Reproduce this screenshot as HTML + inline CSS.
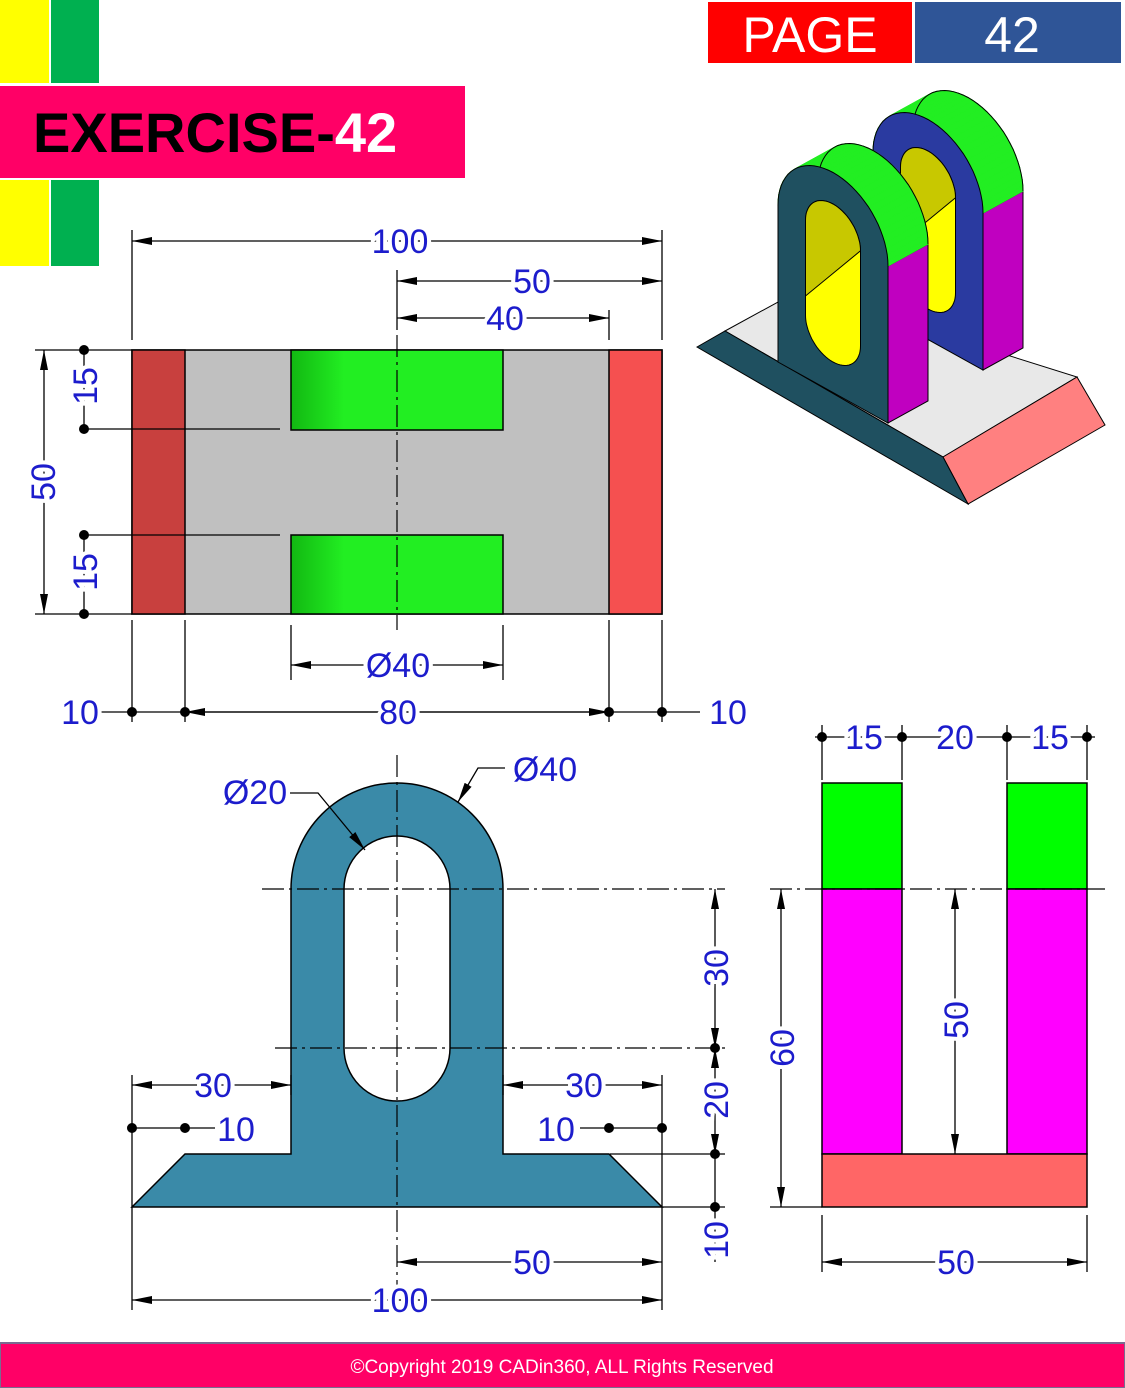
<!DOCTYPE html>
<html><head><meta charset="utf-8"><style>
html,body{margin:0;padding:0;background:#fff;}
svg{display:block;}
.d{font-family:"Liberation Sans",sans-serif;font-size:34px;fill:#1c1ccc;stroke:#fff;stroke-width:8px;paint-order:stroke;text-anchor:middle;dominant-baseline:central;}
.l{stroke:#000;stroke-width:1.3;fill:none;}
.c{stroke:#000;stroke-width:1.2;stroke-dasharray:22 5 3 5;fill:none;}
.o{stroke:#000;stroke-width:1.5;}
</style></head><body>
<svg id="root" width="1125" height="1388" viewBox="0 0 1125 1388" xmlns="http://www.w3.org/2000/svg">
<defs>
<marker id="a" viewBox="0 0 20 10" refX="20" refY="5" markerWidth="20" markerHeight="10" markerUnits="userSpaceOnUse" orient="auto-start-reverse"><path d="M0,1 L20,5 L0,9 Z" fill="#000"/></marker>
<linearGradient id="g" x1="0" x2="1"><stop offset="0" stop-color="#12b812"/><stop offset="0.25" stop-color="#22ee22"/><stop offset="1" stop-color="#22ee22"/></linearGradient>
</defs>

<g>
<rect x="0" y="0" width="49" height="83" fill="#ffff00"/><rect x="51" y="0" width="48" height="83" fill="#00b050"/>
<rect x="0" y="180" width="49" height="86" fill="#ffff00"/><rect x="51" y="180" width="48" height="86" fill="#00b050"/>
<rect x="0" y="86" width="465" height="92" fill="#ff0066"/>
<text x="33" y="152" font-family="Liberation Sans,sans-serif" font-weight="bold" font-size="56" fill="#000">EXERCISE-<tspan fill="#fff">42</tspan></text>
</g>
<g>
<rect x="708" y="2" width="204" height="61" fill="#ff0000"/>
<rect x="915" y="2" width="206" height="61" fill="#2f5597"/>
<text x="810" y="52" text-anchor="middle" font-family="Liberation Sans,sans-serif" font-size="50" fill="#fff">PAGE</text>
<text x="1012" y="52" text-anchor="middle" font-family="Liberation Sans,sans-serif" font-size="50" fill="#fff">42</text>
</g>

<g id="iso" stroke="#000" stroke-width="1">
<polygon points="725,331 800,290 1077,377 943,457" fill="#e8e8e8"/>
<polygon points="943,457 1077,377 1105,425 968,504" fill="#ff8080"/>
</g>

<g>
<rect x="132" y="350" width="530" height="264" fill="#c0c0c0" class="o"/>
<rect x="132" y="350" width="53" height="264" fill="#c8403e" class="o"/>
<rect x="609" y="350" width="53" height="264" fill="#f55050" class="o"/>
<rect x="291" y="350" width="212" height="80" fill="url(#g)" class="o"/>
<rect x="291" y="535" width="212" height="79" fill="url(#g)" class="o"/>
<line x1="397" y1="335" x2="397" y2="630" class="c"/>
</g>
<g>
<line x1="132" y1="230" x2="132" y2="340" class="l"/><line x1="662" y1="230" x2="662" y2="340" class="l"/>
<line x1="397" y1="270" x2="397" y2="330" class="l"/><line x1="609" y1="310" x2="609" y2="340" class="l"/>
<line x1="132" y1="241" x2="662" y2="241" class="l" marker-start="url(#a)" marker-end="url(#a)"/><text x="400" y="242" class="d">100</text>
<line x1="397" y1="281" x2="662" y2="281" class="l" marker-start="url(#a)" marker-end="url(#a)"/><text x="532" y="282" class="d">50</text>
<line x1="397" y1="318" x2="609" y2="318" class="l" marker-start="url(#a)" marker-end="url(#a)"/><text x="505" y="319" class="d">40</text>
<line x1="35" y1="350" x2="132" y2="350" class="l"/><line x1="35" y1="614" x2="132" y2="614" class="l"/>
<line x1="84" y1="429" x2="280" y2="429" class="l"/><line x1="84" y1="535" x2="280" y2="535" class="l"/>
<line x1="44" y1="350" x2="44" y2="614" class="l" marker-start="url(#a)" marker-end="url(#a)"/><text transform="translate(44,482) rotate(-90)" class="d">50</text>
<line x1="84" y1="350" x2="84" y2="429" class="l"/><line x1="84" y1="535" x2="84" y2="614" class="l"/>
<text transform="translate(86,386) rotate(-90)" class="d">15</text><text transform="translate(86,572) rotate(-90)" class="d">15</text>
<g fill="#000"><circle cx="84" cy="350" r="5"/><circle cx="84" cy="429" r="5"/><circle cx="84" cy="535" r="5"/><circle cx="84" cy="614" r="5"/></g>
<line x1="291" y1="625" x2="291" y2="680" class="l"/><line x1="503" y1="625" x2="503" y2="680" class="l"/>
<line x1="291" y1="665" x2="503" y2="665" class="l" marker-start="url(#a)" marker-end="url(#a)"/><text x="398" y="666" class="d">Ø40</text>
<line x1="132" y1="620" x2="132" y2="722" class="l"/><line x1="185" y1="620" x2="185" y2="722" class="l"/><line x1="609" y1="620" x2="609" y2="722" class="l"/><line x1="662" y1="620" x2="662" y2="722" class="l"/>
<line x1="100" y1="712" x2="700" y2="712" class="l"/>
<line x1="185" y1="712" x2="609" y2="712" class="l" marker-start="url(#a)" marker-end="url(#a)"/>
<g fill="#000"><circle cx="132" cy="712" r="5"/><circle cx="185" cy="712" r="5"/><circle cx="609" cy="712" r="5"/><circle cx="662" cy="712" r="5"/></g>
<text x="80" y="713" class="d">10</text><text x="398" y="713" class="d">80</text><text x="728" y="713" class="d">10</text>
</g>

<g>
<path d="M132,1207 L185,1154 L291,1154 L291,889 A106,106 0 0 1 503,889 L503,1154 L609,1154 L662,1207 Z M344,889 L344,1048 A53,53 0 0 0 450,1048 L450,889 A53,53 0 0 0 344,889 Z" fill="#3a8aa8" fill-rule="evenodd" class="o"/>
<line x1="397" y1="755" x2="397" y2="1315" class="c"/>
<line x1="262" y1="889" x2="725" y2="889" class="c"/>
<line x1="275" y1="1048" x2="725" y2="1048" class="c"/>
</g>
<g>
<polyline points="290,793 318,793 365,850" class="l" marker-end="url(#a)"/><text x="255" y="793" class="d">Ø20</text>
<polyline points="505,768 478,768 458,802" class="l" marker-end="url(#a)"/><text x="545" y="770" class="d">Ø40</text>
<line x1="715" y1="889" x2="715" y2="1048" class="l" marker-start="url(#a)" marker-end="url(#a)"/><text transform="translate(717,968) rotate(-90)" class="d">30</text>
<line x1="715" y1="1048" x2="715" y2="1154" class="l" marker-start="url(#a)" marker-end="url(#a)"/><text transform="translate(717,1100) rotate(-90)" class="d">20</text>
<line x1="715" y1="1154" x2="715" y2="1262" class="l"/><text transform="translate(717,1240) rotate(-90)" class="d">10</text>
<line x1="610" y1="1154" x2="725" y2="1154" class="l"/><line x1="662" y1="1207" x2="725" y2="1207" class="l"/>
<g fill="#000"><circle cx="715" cy="1048" r="5"/><circle cx="715" cy="1154" r="5"/><circle cx="715" cy="1207" r="5"/></g>
<line x1="132" y1="1075" x2="132" y2="1310" class="l"/><line x1="662" y1="1075" x2="662" y2="1310" class="l"/>
<line x1="291" y1="1075" x2="291" y2="1095" class="l"/><line x1="503" y1="1075" x2="503" y2="1095" class="l"/>
<line x1="132" y1="1085" x2="291" y2="1085" class="l" marker-start="url(#a)" marker-end="url(#a)"/><text x="213" y="1086" class="d">30</text>
<line x1="503" y1="1085" x2="662" y2="1085" class="l" marker-start="url(#a)" marker-end="url(#a)"/><text x="584" y="1086" class="d">30</text>
<line x1="132" y1="1128" x2="215" y2="1128" class="l"/><line x1="580" y1="1128" x2="662" y2="1128" class="l"/>
<g fill="#000"><circle cx="132" cy="1128" r="5"/><circle cx="185" cy="1128" r="5"/><circle cx="609" cy="1128" r="5"/><circle cx="662" cy="1128" r="5"/></g>
<text x="236" y="1130" class="d">10</text><text x="556" y="1130" class="d">10</text>
<line x1="397" y1="1262" x2="662" y2="1262" class="l" marker-start="url(#a)" marker-end="url(#a)"/><text x="532" y="1263" class="d">50</text>
<line x1="132" y1="1300" x2="662" y2="1300" class="l" marker-start="url(#a)" marker-end="url(#a)"/><text x="400" y="1301" class="d">100</text>
</g>

<g>
<rect x="822" y="783" width="80" height="106" fill="#00ff00" class="o"/>
<rect x="1007" y="783" width="80" height="106" fill="#00ff00" class="o"/>
<rect x="822" y="889" width="80" height="265" fill="#ff00ff" class="o"/>
<rect x="1007" y="889" width="80" height="265" fill="#ff00ff" class="o"/>
<rect x="822" y="1154" width="265" height="53" fill="#ff6666" class="o"/>
<line x1="770" y1="889" x2="1105" y2="889" class="c"/>
</g>
<g>
<line x1="822" y1="725" x2="822" y2="780" class="l"/><line x1="902" y1="725" x2="902" y2="780" class="l"/><line x1="1007" y1="725" x2="1007" y2="780" class="l"/><line x1="1087" y1="725" x2="1087" y2="780" class="l"/>
<line x1="815" y1="737" x2="1095" y2="737" class="l"/>
<g fill="#000"><circle cx="822" cy="737" r="5"/><circle cx="902" cy="737" r="5"/><circle cx="1007" cy="737" r="5"/><circle cx="1087" cy="737" r="5"/></g>
<text x="864" y="738" class="d">15</text><text x="955" y="738" class="d">20</text><text x="1050" y="738" class="d">15</text>
<line x1="770" y1="1207" x2="822" y2="1207" class="l"/>
<line x1="781" y1="889" x2="781" y2="1207" class="l" marker-start="url(#a)" marker-end="url(#a)"/><text transform="translate(783,1048) rotate(-90)" class="d">60</text>
<line x1="955" y1="889" x2="955" y2="1154" class="l" marker-start="url(#a)" marker-end="url(#a)"/><text transform="translate(957,1020) rotate(-90)" class="d">50</text>
<line x1="822" y1="1215" x2="822" y2="1272" class="l"/><line x1="1087" y1="1215" x2="1087" y2="1272" class="l"/>
<line x1="822" y1="1262" x2="1087" y2="1262" class="l" marker-start="url(#a)" marker-end="url(#a)"/><text x="956" y="1263" class="d">50</text>
</g>

<g>
<rect x="0" y="1343" width="1125" height="45" fill="#ff0066" stroke="#7a6a90" stroke-width="2"/>
<text x="562" y="1373" text-anchor="middle" font-family="Liberation Sans,sans-serif" font-size="19" fill="#fff">©Copyright 2019 CADin360, ALL Rights Reserved</text>
</g>
</svg>
<script>
const NS='http://www.w3.org/2000/svg';
const iso=document.getElementById('iso');
const T=[40,-22];
function P(ox,oy,th){return [833+ox+55*Math.cos(th), 235.5+oy+30.5*Math.cos(th)-63*Math.sin(th)];}
function H(ox,oy,th,low){return [833+ox+27.5*Math.cos(th), 235.5+oy+(low?95:0)+15.25*Math.cos(th)-31.5*Math.sin(th)];}
function add(d,fill,name,stroke){
  const p=document.createElementNS(NS,'path');
  p.setAttribute('d',d);p.setAttribute('fill',fill);
  p.setAttribute('stroke',stroke||'#000');
  
  
  iso.appendChild(p);return p;
}
function pts(a){return a.map((q,i)=>(i?'L':'M')+q[0].toFixed(1)+','+q[1].toFixed(1)).join(' ');}
function upright(ox,oy,faceColor,isFront){
  const N=36;
  // magenta side
  add(pts([[888+ox,266+oy],[888+ox,423+oy],[888+ox+T[0],423+oy+T[1]],[888+ox+T[0],266+oy+T[1]]])+'Z','#c000c0','upright-side-face');
  // green sweep
  for(let i=0;i<N;i++){
    const a=Math.PI*i/N,b=Math.PI*(i+1)/N;
    const p1=P(ox,oy,a),p2=P(ox,oy,b);
    add(pts([p1,p2,[p2[0]+T[0],p2[1]+T[1]],[p1[0]+T[0],p1[1]+T[1]]])+'Z','#22ee22','upright-curved-top','#22ee22');
  }
  const back=[];for(let i=0;i<=N;i++){const q=P(ox,oy,Math.PI*i/N);back.push([q[0]+T[0],q[1]+T[1]]);}
  const bp=add(pts(back),'none','upright-top-outline');
  // face
  const f=[[778+ox,362+oy+ (isFront?0:0)]];
  for(let i=N;i>=0;i--)f.push(P(ox,oy,Math.PI*i/N));
  f.push([888+ox,423+oy]);
  add(pts(f)+'Z',faceColor,'upright-front-face');
  // hole
  const h=[];
  for(let i=0;i<=N;i++)h.push(H(ox,oy,Math.PI*i/N,false));
  for(let i=0;i<=N;i++)h.push(H(ox,oy,Math.PI+Math.PI*i/N,true));
  add(pts(h)+'Z','#ffff00','upright-slot');
  const u=[];
  for(let i=0;i<=N;i++)u.push(H(ox,oy,Math.PI*i/N,false));
  u.push([805.5+ox,296+oy]);
  add(pts(u)+'Z','#c8c800','upright-slot-shadow');
}
upright(95,-53,'#2a3aa0',false);
add('M697,347 L725,331 L943,457 L968,504 Z','#1f5060','base-end-face');
upright(0,0,'#1f5060',true);
</script>
</body></html>
